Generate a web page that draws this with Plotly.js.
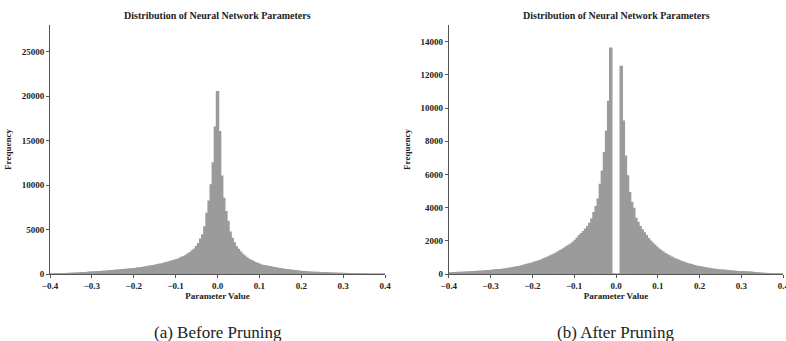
<!DOCTYPE html>
<html><head><meta charset="utf-8">
<script src="https://cdn.plot.ly/plotly-3.0.1.min.js"></script>
<style>html,body{margin:0;padding:0;background:#fff}#chart{width:786px;height:341px}</style>
</head><body><div id="chart"></div>
<script>
// Histogram bin settings
const binWidth = 0.005;
const beforeStart = -0.4;   // first bin centre, before pruning
const afterStart = -0.3975; // first bin centre, after pruning

// Counts (left to right)
const countsBefore = [
  2,3,5,9,14,20,28,36,45,55,
  65,76,88,100,115,130,145,160,175,190,
  205,220,235,250,265,280,300,320,340,360,
  380,400,425,440,460,480,500,520,545,570,
  600,630,660,690,720,760,800,840,880,920,
  960,1010,1060,1110,1170,1230,1290,1360,1430,1500,
  1580,1650,1750,1850,1950,2100,2250,2400,2600,2800,
  3100,3400,3900,4400,5300,6800,8200,10000,12500,16500,
  20500,
  16000,11000,8500,7000,5900,4700,4000,3500,3050,2750,
  2450,2200,2000,1800,1650,1520,1400,1280,1180,1090,
  1000,940,900,860,820,770,720,680,630,590,
  550,515,480,455,430,400,370,340,315,290,
  270,250,230,215,200,185,175,165,155,145,
  135,125,115,105,95,85,75,68,60,52,
  45,38,32,26,20,15,10,5,3,2,
  1,1,0,0,0,0,0,0,0,0
];
const countsAfter = [
  65,70,75,80,86,92,98,105,112,118,
  125,132,140,148,155,165,175,185,195,205,
  215,228,240,250,265,280,295,315,335,355,
  375,395,420,445,470,500,540,570,610,640,
  680,720,760,800,850,900,950,1010,1070,1130,
  1190,1260,1330,1400,1480,1560,1640,1720,1800,1900,
  2020,2150,2300,2430,2550,2700,2850,3050,3300,3700,
  4050,4500,5400,6200,7300,8600,10400,13600,0,0,
  0,0,12500,9200,7100,5900,4900,4300,3950,3350,
  3100,2850,2650,2480,2300,2120,1980,1850,1730,1610,
  1500,1400,1310,1230,1150,1080,1010,950,890,840,
  790,740,695,650,610,575,540,505,475,445,
  420,395,370,348,328,308,290,273,258,245,
  235,225,212,200,188,176,164,153,146,140,
  133,127,121,115,105,92,80,68,56,45,
  35,26,18,12,8,5,3,2,1,1
];

const xTicks = [-0.4,-0.3,-0.2,-0.1,0.0,0.1,0.2,0.3,0.4];
const yTicksBefore = [0,5000,10000,15000,20000,25000];
const yTicksAfter = [0,2000,4000,6000,8000,10000,12000,14000];
const chartTitle = 'Distribution of Neural Network Parameters';
const captions = ['(a) Before Pruning', '(b) After Pruning'];

const centres = (start, n) => Array.from({length:n}, (_, i) => +(start + i*binWidth).toFixed(4));

const barColor = '#9b9b9b';
const serif = 'Liberation Serif, Times New Roman, serif';
const txt = '#222';

const traces = [
  {type:'bar', x:centres(beforeStart, countsBefore.length), y:countsBefore, width:binWidth,
   marker:{color:barColor, line:{width:1.4, color:barColor}}, xaxis:'x', yaxis:'y', hoverinfo:'x+y'},
  {type:'bar', x:centres(afterStart, countsAfter.length), y:countsAfter, width:binWidth,
   marker:{color:barColor, line:{width:1.4, color:barColor}}, xaxis:'x2', yaxis:'y2', hoverinfo:'x+y'}
];

const tickFont = {family:serif, size:9, color:txt, weight:'bold'};
const titleFont = {family:serif, size:9, color:txt, weight:'bold'};
const axisCommon = {showline:true, linecolor:'#555', linewidth:1, ticks:'outside', ticklen:3,
  tickcolor:'#555', showgrid:false, zeroline:false, tickfont:tickFont, automargin:false, fixedrange:true,
  ticklabeloverflow:'allow', layer:'above traces'};

const W = 786, L = 50, R = 0;
const pw = W - L - R;
const d1 = [0, (385-L)/pw];
const d2 = [(448.7-L)/pw, (783.3-L)/pw];

const layout = {
  width:786, height:341,
  margin:{l:L, r:R, t:25, b:67},
  paper_bgcolor:'#fff', plot_bgcolor:'#fff',
  showlegend:false, bargap:0,
  xaxis:Object.assign({}, axisCommon, {domain:d1, anchor:'y', range:[-0.4,0.4], tickvals:xTicks, tickformat:'.1f',
    title:{text:'Parameter Value', font:titleFont, standoff:2}}),
  yaxis:Object.assign({}, axisCommon, {domain:[0,1], anchor:'x', range:[0,28000], tickvals:yTicksBefore, tickformat:'d',
    title:{text:'Frequency', font:titleFont, standoff:8}}),
  xaxis2:Object.assign({}, axisCommon, {domain:d2, anchor:'y2', range:[-0.4,0.4], tickvals:xTicks, tickformat:'.1f',
    title:{text:'Parameter Value', font:titleFont, standoff:2}}),
  yaxis2:Object.assign({}, axisCommon, {domain:[0,1], anchor:'x2', range:[0,15000], tickvals:yTicksAfter, tickformat:'d',
    title:{text:'Frequency', font:titleFont, standoff:8}}),
  annotations:[
    {text:chartTitle, xref:'paper', yref:'paper', x:(d1[0]+d1[1])/2, xanchor:'center', y:1, yshift:10, yanchor:'middle',
     showarrow:false, font:{family:serif, size:10, color:txt, weight:'bold'}},
    {text:chartTitle, xref:'paper', yref:'paper', x:(d2[0]+d2[1])/2, xanchor:'center', y:1, yshift:10, yanchor:'middle',
     showarrow:false, font:{family:serif, size:10, color:txt, weight:'bold'}},
    {text:captions[0], xref:'paper', yref:'paper', x:(d1[0]+d1[1])/2, xanchor:'center', y:0, yshift:-58, yanchor:'middle',
     showarrow:false, font:{family:serif, size:17, color:txt}},
    {text:captions[1], xref:'paper', yref:'paper', x:(d2[0]+d2[1])/2, xanchor:'center', y:0, yshift:-58, yanchor:'middle',
     showarrow:false, font:{family:serif, size:17, color:txt}}
  ]
};

Plotly.newPlot('chart', traces, layout, {displayModeBar:false, staticPlot:true});
</script></body></html>
